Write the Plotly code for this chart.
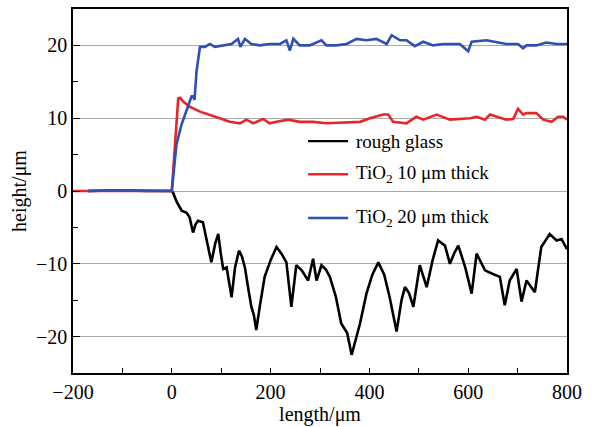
import plotly.graph_objects as go

# rough glass profile
glass_x = [-170, -100, -50, 0, 3, 10, 20, 30, 36, 43, 48, 53, 63, 70, 80, 88, 94, 99, 104, 111, 121, 128, 136, 142,
           148, 155, 161, 166, 171, 178, 188, 200, 212, 222, 232, 242, 252, 263, 276, 286, 293, 303, 312, 320,
           332, 343, 355, 364, 372, 381, 394, 406, 418, 430, 441, 455, 465, 472, 480, 489, 502, 516, 528, 539,
           553, 563, 572, 580, 594, 607, 617, 634, 650, 664, 674, 684, 698, 708, 718, 735, 742, 748, 765, 779,
           789, 800]
glass_y = [0, 0.1, 0, 0, -0.3, -1.5, -2.7, -3.0, -3.6, -5.7, -4.6, -4.1, -4.3, -6.5, -9.8, -7.2, -5.9, -8.5,
           -10.7, -10.5, -14.6, -10.5, -8.2, -9.0, -10.5, -13.5, -15.9, -17.0, -19.1, -15.9, -11.8, -9.5,
           -7.7, -8.6, -9.8, -15.9, -10.2, -10.9, -12.3, -9.3, -12.3, -10.2, -10.8, -11.8, -14.5, -18.2,
           -19.5, -22.5, -20.5, -18.2, -14.1, -11.5, -9.8, -11.5, -14.6, -19.3, -15.0, -13.2, -14.0, -15.9,
           -10.2, -13.2, -9.5, -6.8, -7.5, -10.0, -8.5, -7.5, -10.5, -14.1, -8.6, -10.9, -11.4, -11.8,
           -15.7, -12.3, -10.7, -15.2, -12.3, -13.9, -10.5, -7.7, -5.9, -6.8, -6.6, -8.0]

# TiO2 10 um
t10_x = [-200, -100, 0, 13, 17, 23, 36, 57, 77, 97, 117, 138, 151, 165, 185, 198, 212, 236, 259, 286,
         313, 347, 381, 401, 428, 438, 448, 475, 495, 509, 536, 563, 604, 617, 634, 644, 677, 691, 701,
         711, 718, 738, 752, 769, 782, 792, 800]
t10_y = [0, 0, 0, 12.7, 12.8, 12.3, 11.6, 10.9, 10.5, 10.0, 9.5, 9.3, 9.8, 9.3, 9.9, 9.3, 9.5, 9.8, 9.5,
         9.5, 9.3, 9.4, 9.5, 10.0, 10.5, 10.5, 9.5, 9.3, 10.2, 9.8, 10.5, 9.8, 10.0, 10.2, 9.8, 10.5,
         9.8, 9.9, 11.3, 10.5, 10.7, 10.7, 9.8, 9.5, 10.2, 10.2, 9.8]

# TiO2 20 um
t20_x = [-170, -100, 0, 9.5, 19.6, 36, 40, 43, 46, 50, 57, 67, 77, 87, 104, 121, 134, 139, 148, 161, 178,
         198, 219, 232, 239, 246, 259, 279, 303, 313, 333, 354, 374, 394, 414, 435, 445, 462, 475, 492,
         509, 529, 550, 583, 600, 607, 637, 657, 677, 701, 711, 718, 738, 758, 779, 800]
t20_y = [0, 0.1, 0, 6.4, 9.1, 12.3, 13.0, 13.0, 12.5, 16.4, 19.8, 19.8, 20.2, 19.8, 20.0, 20.2, 20.9,
         19.8, 20.9, 20.2, 20.0, 20.2, 20.2, 20.7, 19.3, 20.9, 20.0, 20.0, 20.7, 20.0, 20.0, 20.2, 20.9,
         20.7, 20.9, 20.2, 21.4, 20.7, 20.7, 19.9, 20.5, 20.0, 20.2, 20.2, 19.2, 20.5, 20.7, 20.5, 20.2,
         20.2, 19.6, 20.0, 20.0, 20.4, 20.2, 20.2]

names = ["rough glass", "TiO<sub>2</sub> 10 μm thick", "TiO<sub>2</sub> 20 μm thick"]
colors = ["#000000", "#e8262a", "#2f4fb5"]

FONT = "Liberation Serif"

fig = go.Figure()
for xs, ys, nm, c in [(glass_x, glass_y, names[0], colors[0]),
                      (t10_x, t10_y, names[1], colors[1]),
                      (t20_x, t20_y, names[2], colors[2])]:
    fig.add_trace(go.Scatter(x=xs, y=ys, mode="lines", name=nm,
                             line=dict(color=c, width=2.6), showlegend=False))

# manual legend (paper coordinates)
legend_rows = [(0.637, names[0], colors[0]), (0.546, names[1], colors[1]), (0.426, names[2], colors[2])]
for yp, nm, c in legend_rows:
    fig.add_shape(type="line", xref="paper", yref="paper", x0=0.476, x1=0.557, y0=yp, y1=yp,
                  line=dict(color=c, width=2.4))
    fig.add_annotation(xref="paper", yref="paper", x=0.569, y=yp, text=nm, showarrow=False,
                       xanchor="left", yanchor="middle", font=dict(family=FONT, size=19, color="black"))

fig.update_layout(
    width=597, height=427,
    margin=dict(l=73, r=30, t=7, b=54),
    plot_bgcolor="white", paper_bgcolor="white",
    font=dict(family=FONT, size=20, color="black"),
    showlegend=False,
)
fig.update_xaxes(range=[-200, 800], tickvals=[-200, 0, 200, 400, 600, 800],
                 ticktext=["−200", "0", "200", "400", "600", "800"],
                 ticks="inside", ticklen=5, tickwidth=1.2, tickcolor="black",
                 minor=dict(tickvals=[-100, 100, 300, 500, 700], ticks="inside", ticklen=5,
                            tickcolor="black", showgrid=False),
                 showline=True, linecolor="black", linewidth=1.5, mirror=True,
                 showgrid=False, zeroline=False,
                 title=dict(text="length/μm", font=dict(family=FONT, size=20), standoff=2),
                 tickfont=dict(family=FONT, size=20))
fig.update_yaxes(range=[-25, 25], tickvals=[-20, -10, 0, 10, 20],
                 ticktext=["−20", "−10", "0", "10", "20"],
                 ticks="inside", ticklen=7, tickwidth=1.2, tickcolor="black",
                 minor=dict(tickvals=[-15, -5, 5, 15], ticks="inside", ticklen=5,
                            tickcolor="black", showgrid=False),
                 showline=True, linecolor="black", linewidth=1.5, mirror=True,
                 showgrid=True, gridcolor="#aaaaaa", gridwidth=1.3, zeroline=False,
                 title=dict(text="height/μm", font=dict(family=FONT, size=20), standoff=4),
                 tickfont=dict(family=FONT, size=20))

fig.write_html("out.html")
